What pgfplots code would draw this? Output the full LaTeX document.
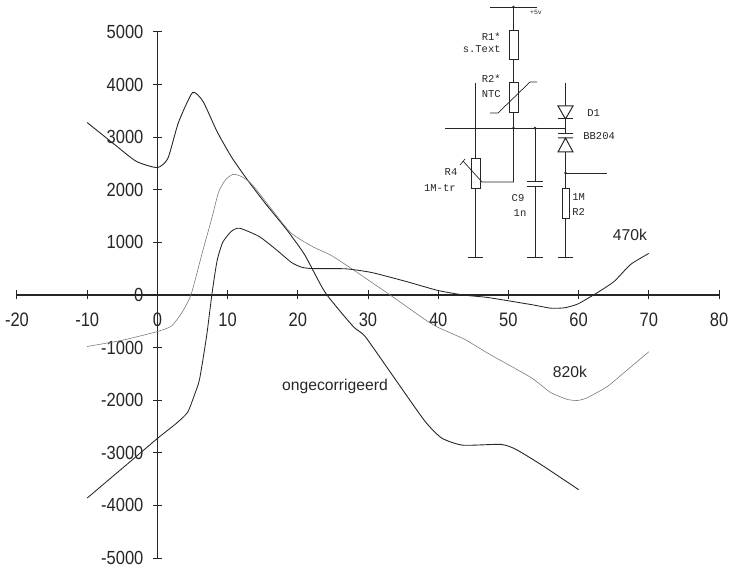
\documentclass[border=0pt]{standalone}
\usepackage{graphicx}
\usepackage{fontspec}
\setmainfont{Liberation Sans}
\newfontfamily\schem{Liberation Mono}
\usepackage{pgfplots}
\pgfplotsset{compat=1.18}
\begin{document}
\begin{tikzpicture}
\begin{axis}[
  scale only axis,
  width=702pt, height=526pt,
  xmin=-20, xmax=80, ymin=-5000, ymax=5000,
  axis lines=middle,
  axis line style={black!85, line width=1.1pt, -},
  xtick={-20,-10,...,80},
  ytick={-5000,-4000,...,5000},
  hide obscured x ticks=false,
  hide obscured y ticks=false,
  tick align=center,
  major tick length=9pt,
  tick style={black!85, line width=1pt},
  tick label style={font=\fontsize{16.5}{18}\selectfont, black!85},
  xticklabel={\scalebox{1}[1.18]{\pgfmathprintnumber{\tick}}},
  yticklabel={\scalebox{1}[1.15]{\pgfmathprintnumber{\tick}}},
  xticklabel style={yshift=-10pt},
  yticklabel style={xshift=-6pt},
  /pgf/number format/1000 sep={},
  /pgf/number format/assume math mode=true,
  clip=false,
  every axis plot/.style={smooth, tension=0.35, no marks},
]
% ongecorrigeerd
\addplot[black!85, line width=0.9pt] coordinates {
  (-10,3278) (-6,2850) (-3,2540) (0,2422) (1.5,2600) (3,3280) (5,3848) (6.5,3680)
  (8.5,3107) (10.6,2613) (13,2157) (15.5,1720) (18.4,1245) (21,760) (23.9,48)
  (27.9,-600) (29.6,-790) (33.9,-1605) (38.1,-2398) (40.5,-2720) (43.5,-2855)
  (48.9,-2840) (51,-2930) (54.6,-3220) (60,-3700)
};
% 820k
\addplot[black!55, line width=0.55pt] coordinates {
  (-10,-979) (-5,-860) (0,-695) (2,-590) (3.5,-333) (4.8,10) (6.4,808) (7.7,1435)
  (8.7,1950) (9.7,2190) (10.8,2295) (12,2250) (13.5,2100) (16.3,1625) (19,1182)
  (22,927) (24.8,750) (28.2,452) (33.4,-23) (38.1,-465) (40,-617) (43.8,-845)
  (47.1,-1110) (53.2,-1568) (56,-1853) (58.4,-1985) (59.9,-2005) (61.3,-1948)
  (64.1,-1739) (66.5,-1473) (70,-1080)
};
% 470k
\addplot[black!85, line width=0.85pt] coordinates {
  (-10,-3860) (-3.5,-3125) (0,-2727) (2.7,-2440) (4.3,-2232) (5.2,-1929) (6,-1605)
  (7,-790) (7.8,48) (8.5,650) (9.3,1000) (10.5,1207) (11.7,1270) (14.5,1112)
  (16.9,865) (19.1,618) (20.5,530) (22,503) (26.8,498) (30.5,428) (35.3,262)
  (40,85) (43.8,-4) (47.1,-48) (53.2,-181) (56,-250) (58,-243) (59.9,-170)
  (62.7,47) (65.1,262) (67.4,580) (70,790)
};
\end{axis}
% page size in reference pixels; origin of the scope is the picture's top left
\pgfresetboundingbox
\path[use as bounding box] (-17pt,-13pt) rectangle (714pt,558pt);
\begin{scope}[shift={(-17pt,558pt)}, x=1pt, y=-1pt, black!85, line width=0.7pt]
  % labels
  \node[font=\fontsize{15.7}{17}\selectfont] at (630,235) {470k};
  \node[font=\fontsize{15.7}{17}\selectfont] at (570,372) {820k};
  \node[font=\fontsize{15.7}{17}\selectfont] at (335,386) {ongecorrigeerd};
  % wires
  \draw (490,7) -- (537,7);
  \draw (513.5,7) -- (513.5,31) (513.5,60) -- (513.5,83) (513.5,113) -- (513.5,128);
  \draw (445,128) -- (565.5,128);
  \draw (475,83) -- (475,159) (475,189) -- (475,257);
  \draw (535,128) -- (535,182) (535,187) -- (535,257);
  \draw (513.5,128) -- (513.5,182) -- (482,182) -- (463,161);
  \draw (460,165) -- (465,159);
  \draw (565.5,83) -- (565.5,106) (565.5,119) -- (565.5,134) (565.5,152) -- (565.5,189) (565.5,219) -- (565.5,257);
  \draw (565.5,173) -- (607,173);
  \draw (490,113) -- (498,113) -- (530,82) -- (537,82);
  % grounds and capacitor plates
  \draw (468,257) -- (483,257) (527,257) -- (543,257) (558,257) -- (573,257);
  \draw[line width=1pt] (527,182) -- (543,182) (527,187) -- (543,187);
  \draw[line width=1pt] (558,134) -- (573,134) (558,119) -- (573,119);
  % resistors
  \draw[line width=1pt] (509,31) rectangle (518,60);
  \draw[line width=1pt] (509,83) rectangle (518,113);
  \draw[line width=1pt] (471,159) rectangle (480,189);
  \draw[line width=1pt] (562,189) rectangle (569,219);
  % diodes
  \draw[line width=1pt] (558,106) -- (573,106) -- (565.5,119) -- cycle;
  \draw[line width=1pt] (558,152) -- (573,152) -- (565.5,138) -- cycle (558,138) -- (573,138);
  % dots
  \fill (513.5,7) circle (1.4pt) (513.5,128) circle (1.4pt) (535,128) circle (1.4pt) (565.5,173) circle (1.4pt);
  % schematic text
  \begin{scope}[font=\schem\fontsize{10.5}{12}\selectfont, inner sep=0pt]
    \node[font=\schem\fontsize{6.5}{8}\selectfont] at (536,12) {+5v};
    \node[anchor=east] at (501,37) {R1*};
    \node[anchor=east] at (501,49) {s.Text};
    \node[anchor=east] at (501,79) {R2*};
    \node[anchor=east] at (501,94) {NTC};
    \node[anchor=west] at (587,113) {D1};
    \node[anchor=west] at (583,136) {BB204};
    \node at (451,172) {R4};
    \node[anchor=east] at (456,188) {1M-tr};
    \node at (518,198) {C9};
    \node at (520,213) {1n};
    \node[anchor=west] at (572,197) {1M};
    \node[anchor=west] at (572,212) {R2};
  \end{scope}
\end{scope}
\end{tikzpicture}
\end{document}
